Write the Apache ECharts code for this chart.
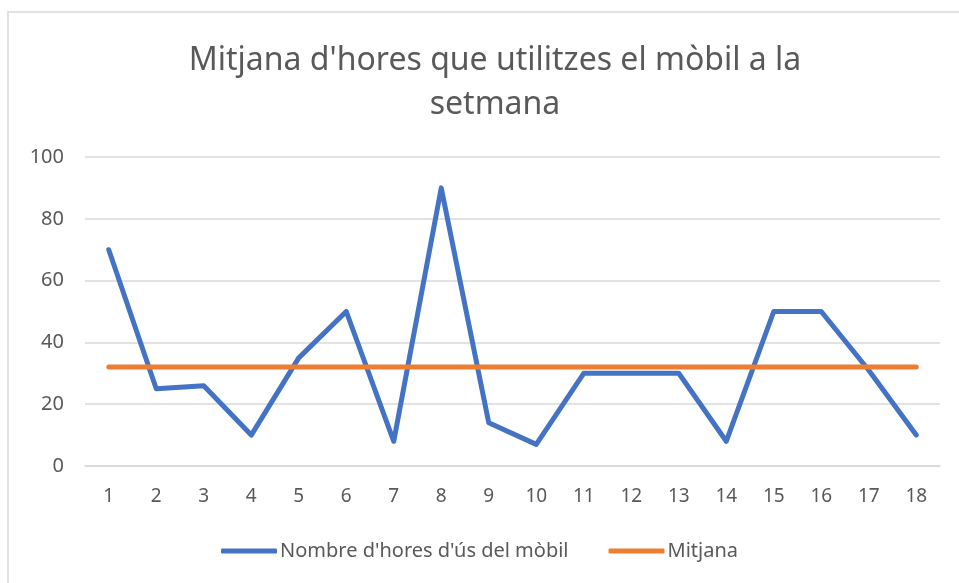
<!DOCTYPE html>
<html>
<head>
<meta charset="utf-8">
<script src="https://cdn.jsdelivr.net/npm/echarts@6/dist/echarts.min.js"></script>
<style>
  html, body { margin: 0; padding: 0; background: #fff; }
  #chart { width: 959px; height: 583px; }
</style>
</head>
<body>
<div id="chart"></div>
<script>
var setmanes = ['1', '2', '3', '4', '5', '6', '7', '8', '9', '10', '11', '12', '13', '14', '15', '16', '17', '18'];
var hores = [70, 25, 26, 10, 35, 50, 8, 90, 14, 7, 30, 30, 30, 8, 50, 50, 31, 10];
var mitjana = [32, 32, 32, 32, 32, 32, 32, 32, 32, 32, 32, 32, 32, 32, 32, 32, 32, 32];
var yTicks = [0, 20, 40, 60, 80, 100];

var chart = echarts.init(document.getElementById('chart'));
var textColor = '#595959';
var option = {
    animation: false,
    textStyle: { fontFamily: 'Noto Sans' },
    graphic: [{
        type: 'rect',
        shape: { x: 8, y: 12, width: 970, height: 600 },
        style: { fill: 'none', stroke: '#d9d9d9', lineWidth: 1.5 },
        silent: true
    }],
    title: {
        text: "Mitjana d'hores que utilitzes el mòbil a la\nsetmana",
        left: 490,
        top: 34,
        textAlign: 'center',
        textStyle: { color: textColor, fontSize: 32, fontWeight: 'normal', lineHeight: 44, fontFamily: 'Noto Sans' }
    },
    legend: {
        data: ["Nombre d'hores d'ús del mòbil", 'Mitjana'],
        left: 'center',
        top: 536,
        icon: 'roundRect',
        itemWidth: 56,
        itemHeight: 5,
        itemGap: 40,
        textStyle: { color: textColor, fontSize: 20, padding: [0, 0, 0, -2] }
    },
    grid: { left: 85, right: 19, top: 157, bottom: 117 },
    xAxis: {
        type: 'category',
        data: setmanes,
        boundaryGap: true,
        axisLine: { show: true, lineStyle: { color: '#d9d9d9', width: 1.5 } },
        axisTick: { show: false },
        axisLabel: { color: textColor, fontSize: 19, margin: 21 }
    },
    yAxis: {
        type: 'value',
        min: yTicks[0],
        max: yTicks[yTicks.length - 1],
        interval: 20,
        axisLine: { show: false },
        axisTick: { show: false },
        axisLabel: { color: textColor, fontSize: 20, margin: 21 },
        splitLine: { lineStyle: { color: '#d9d9d9', width: 1.5 } }
    },
    series: [
        {
            name: "Nombre d'hores d'ús del mòbil",
            type: 'line',
            data: hores,
            showSymbol: false,
            symbol: 'none',
            itemStyle: { color: '#4472C4' },
            lineStyle: { color: '#4472C4', width: 5, cap: 'round', join: 'round' },
            z: 2
        },
        {
            name: 'Mitjana',
            type: 'line',
            data: mitjana,
            showSymbol: false,
            symbol: 'none',
            itemStyle: { color: '#ED7D31' },
            lineStyle: { color: '#ED7D31', width: 5, cap: 'round', join: 'round' },
            z: 3
        }
    ]
};
chart.setOption(option);
</script>
</body>
</html>
